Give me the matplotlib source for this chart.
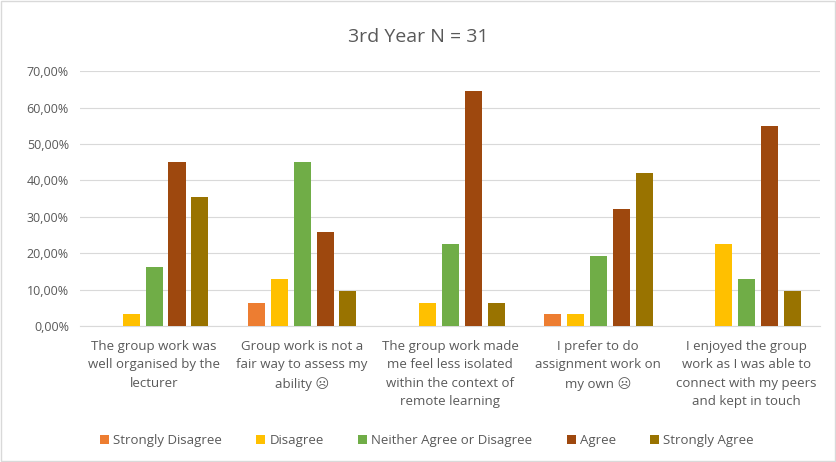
import numpy as np
import matplotlib.pyplot as plt
from matplotlib.patches import Rectangle
from matplotlib.ticker import FuncFormatter

categories = [
    "The group work was\nwell organised by the\nlecturer",
    "Group work is not a\nfair way to assess my\nability \u2639",
    "The group work made\nme feel less isolated\nwithin the context of\nremote learning",
    "I prefer to do\nassignment work on\nmy own \u2639",
    "I enjoyed the group\nwork as I was able to\nconnect with my peers\nand kept in touch",
]
series_names = ["Strongly Disagree", "Disagree", "Neither Agree or Disagree", "Agree", "Strongly Agree"]
strongly_disagree = [0.0, 0.0645, 0.0, 0.0323, 0.0]
disagree = [0.0323, 0.1290, 0.0645, 0.0323, 0.2258]
neither = [0.1613, 0.4516, 0.2258, 0.1935, 0.1290]
agree = [0.4516, 0.2581, 0.6452, 0.3226, 0.5484]
strongly_agree = [0.3548, 0.0968, 0.0645, 0.4194, 0.0968]
colors = ["#ED7D31", "#FFC000", "#70AD47", "#9E480E", "#997300"]

values = [strongly_disagree, disagree, neither, agree, strongly_agree]

plt.rcParams["font.family"] = ["Open Sans", "DejaVu Sans"]
txt = "#595959"

fig = plt.figure(figsize=(8.37, 4.62), dpi=100)
ax = fig.add_axes([0.0956, 0.2944, 0.8844, 0.5516])

x = np.arange(len(categories))
step = 0.155
width = 0.115
for i, (name, vals) in enumerate(zip(series_names, values)):
    ax.bar(x + (i - 2) * step, vals, width, color=colors[i], label=name, zorder=3)

ax.set_xlim(-0.5, len(categories) - 0.5)
ax.set_ylim(0, 0.7)
ax.set_yticks(np.arange(0, 0.71, 0.1))
ax.yaxis.set_major_formatter(FuncFormatter(lambda v, p: f"{v*100:.2f}%".replace(".", ",")))
ax.grid(axis="y", color="#d9d9d9", linewidth=0.8, zorder=0)
for s in ["top", "right", "left"]:
    ax.spines[s].set_visible(False)
ax.spines["bottom"].set_color("#d9d9d9")
ax.tick_params(axis="y", length=0, labelsize=9, labelcolor=txt, pad=8)
ax.tick_params(axis="x", length=0, labelsize=9.5, labelcolor=txt, pad=10)
ax.set_xticks(x)
ax.set_xticklabels(categories, va="top", linespacing=1.55)

fig.text(0.5, 0.92, "3rd Year N = 31", ha="center", va="center", fontsize=14, color=txt)

fig.legend(loc="center", bbox_to_anchor=(0.51, 0.047), ncol=5, frameon=False,
           fontsize=9.5, labelcolor=txt, handlelength=0.7, handleheight=0.7,
           handletextpad=0.3, columnspacing=2.6)

fig.patches.append(Rectangle((0.001, 0.002), 0.997, 0.996, transform=fig.transFigure,
                             fill=False, edgecolor="#d9d9d9", linewidth=1))

fig.savefig("out.png", dpi=100)
